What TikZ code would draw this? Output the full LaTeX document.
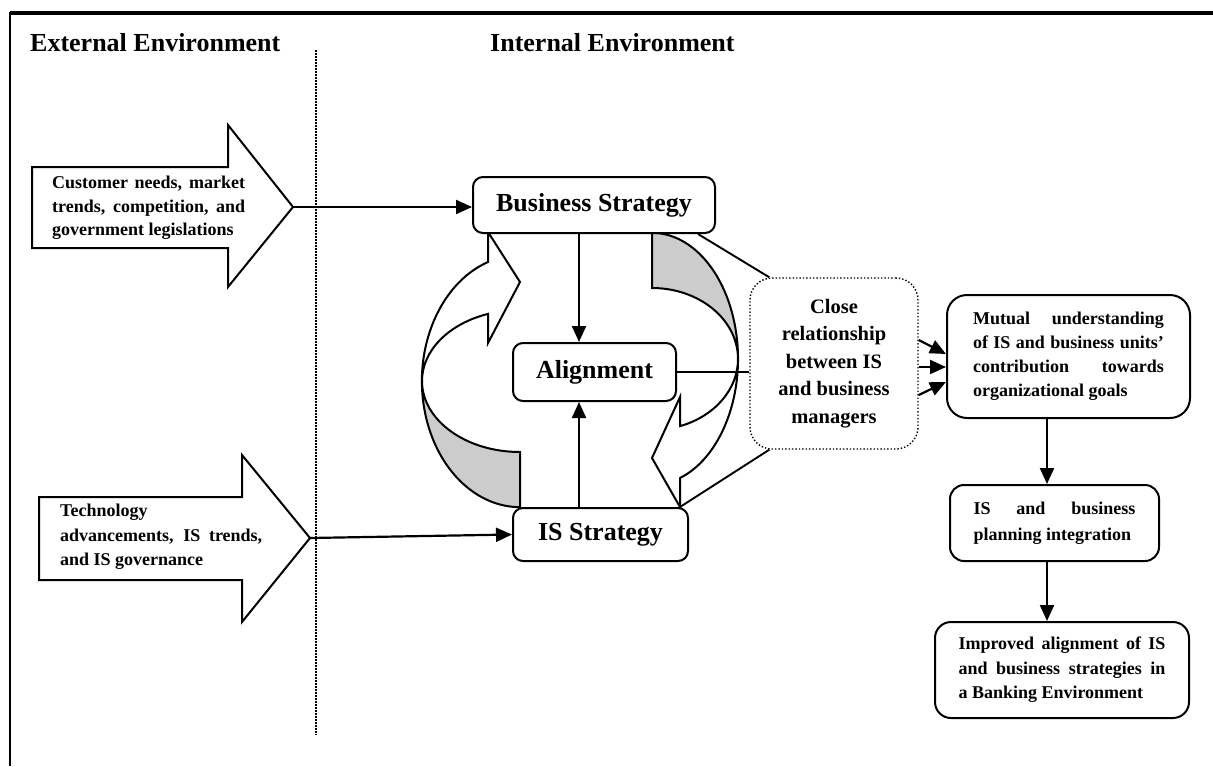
\documentclass[tikz,border=0pt]{standalone}
\usepackage{fontspec}
\setmainfont{Liberation Serif}
\usetikzlibrary{arrows.meta,calc}
\begin{document}
\begin{tikzpicture}[x=1pt,y=1pt,
  box/.style={draw,line width=2pt,fill=white,inner sep=0pt,align=center},
  big/.style={font=\fontsize{26}{30}\selectfont\bfseries},
  small/.style={font=\fontsize{18}{24}\selectfont\bfseries},
  arr/.style={line width=2.2pt,-{Triangle[length=16pt,width=14pt]}},
  ln/.style={line width=1.9pt},
  band/.style={line width=2pt,line join=miter},
  shade/.style={fill=black!20},
]
\useasboundingbox (0,0) rectangle (1213,-766);

% frame and divider
\draw[line width=3.8pt] (1213,-13) -- (10,-13);
\draw[line width=2.8pt] (10,-12) -- (10,-766);
\draw[line width=2pt,densely dotted] (316,-50) -- (316,-735);

% headings
\node[big,anchor=base west,inner sep=0] (ext) at (30,-51) {External Environment};
\node[big,anchor=base west,inner sep=0] (int) at (490,-51) {Internal Environment};

% external block arrows
\draw[band,fill=white] (32,-167) -- (228,-167) -- (228,-125) -- (293,-207) -- (228,-287) -- (228,-248) -- (32,-248) -- cycle;
\coordinate (tipA) at (293,-207);
\node[small,align=left,anchor=west,inner sep=0,font=\fontsize{18}{23.5}\selectfont\bfseries] (txtA) at (52,-208)
  {\makebox[193pt][s]{Customer needs, market}\\\makebox[193pt][s]{trends, competition, and}\\government legislations};

\draw[band,fill=white] (39,-497) -- (242,-497) -- (242,-455) -- (310,-538) -- (242,-622) -- (242,-580) -- (39,-580) -- cycle;
\coordinate (tipB) at (310,-538);
\node[small,align=left,anchor=west,inner sep=0,font=\fontsize{18}{24.5}\selectfont\bfseries] (txtB) at (60,-537)
  {Technology\\\makebox[202pt][s]{advancements, IS trends,}\\and IS governance};

% curved arrow on the right: business strategy down to IS strategy
\fill[shade] (652,-233) arc[start angle=90,end angle=0,x radius=86,y radius=126]
  arc[start angle=0,end angle=90,x radius=86,y radius=71] -- cycle;
\draw[band] (652,-233) -- (652,-288) arc[start angle=90,end angle=-71,x radius=86,y radius=71]
  -- (680,-397) -- (652,-458) -- (680,-507) -- (680,-478)
  arc[start angle=-71,end angle=90,x radius=86,y radius=126] -- cycle;
\coordinate (headR) at (680,-507);

% curved arrow on the left: IS strategy up to business strategy
\fill[shade] (520,-507) arc[start angle=270,end angle=180,x radius=98,y radius=126]
  arc[start angle=180,end angle=270,x radius=98,y radius=71] -- cycle;
\draw[band] (520,-507) -- (520,-452) arc[start angle=270,end angle=109,x radius=98,y radius=71]
  -- (488,-343) -- (520,-282) -- (488,-232) -- (488,-262)
  arc[start angle=109,end angle=270,x radius=98,y radius=126] -- cycle;

% strategy boxes
\node[box,big,rounded corners=10pt,minimum width=242,minimum height=56] (bs) at (594,-205) {Business Strategy};
\node[box,big,rounded corners=10pt,minimum width=163,minimum height=58] (al) at (594.5,-372) {Alignment};
\node[box,big,rounded corners=10pt,minimum width=175,minimum height=53] (is) at (600.5,-534.5) {IS Strategy};

% relationship box
\node[draw,line width=1.4pt,dotted,rounded corners=22pt,fill=white,inner sep=0,minimum width=168,minimum height=171,
  align=center,font=\fontsize{20.5}{27.5}\selectfont\bfseries] (cr) at (834,-363.5)
  {Close\\relationship\\between IS\\and business\\managers};

% outcome boxes
\node[box,small,rounded corners=20pt,minimum width=243,minimum height=123,align=left] (mu) at (1068.5,-356.5)
  {\makebox[191pt][s]{Mutual understanding}\\\makebox[191pt][s]{of IS and business units'}\\\makebox[191pt][s]{contribution towards}\\organizational goals};
\node[box,small,rounded corners=14pt,minimum width=209,minimum height=76,align=left,font=\fontsize{18}{25.5}\selectfont\bfseries] (pl) at (1054.5,-523)
  {\makebox[162pt][s]{IS and business}\\planning integration};
\node[box,small,rounded corners=16pt,minimum width=254,minimum height=96,align=left,font=\fontsize{18}{24.5}\selectfont\bfseries] (im) at (1062,-670)
  {\makebox[207pt][s]{Improved alignment of IS}\\\makebox[207pt][s]{and business strategies in}\\a Banking Environment};

% connectors
\coordinate (vA) at (579,0);
\coordinate (vB) at (1047,0);
\draw[arr] (tipA) -- (bs.west |- tipA);
\draw[arr] (tipB) -- (is.west);
\draw[arr] (bs.south -| vA) -- (al.north -| vA);
\draw[arr] (is.north -| vA) -- (al.south -| vA);
\draw[ln] (al.east) -- (cr.west |- al.east);
\draw[ln] ($(bs.south east)+(-18,0)$) -- ($(cr.north west)+(20,0)$);
\draw[ln] ($(cr.south west)+(20,0)$) -- (headR);
\draw[arr] ($(cr.east)+(0,23.5)$) -- ($(mu.west)+(0,2.5)$);
\draw[arr] ($(cr.east)+(0,-3.5)$) -- ($(mu.west)+(0,-10.5)$);
\draw[arr] ($(cr.east)+(0,-31.5)$) -- ($(mu.west)+(0,-25.5)$);
\draw[arr] (mu.south -| vB) -- (pl.north -| vB);
\draw[arr] (pl.south -| vB) -- (im.north -| vB);
\end{tikzpicture}
\end{document}
